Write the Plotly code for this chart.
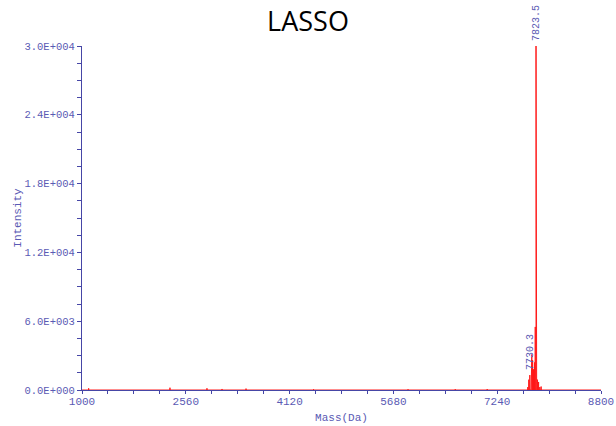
import plotly.graph_objects as go

# Spectrum peaks (mass in Da, intensity in counts)
peak_mass = [1100, 2322, 2878, 3104, 3465, 4480, 5900, 6610, 7090,
             7700, 7715, 7730.3, 7750, 7760, 7772, 7785, 7800, 7812,
             7823.5, 7833, 7845, 7862, 7880, 7900]
peak_intensity = [150, 200, 150, 90, 120, 60, 60, 70, 80,
                  250, 900, 1300, 2200, 3100, 2600, 1800, 2400, 5500,
                  30000, 1600, 900, 700, 250, 300]

# Peaks that carry a mass label
labelled_mass = [7823.5, 7730.3]

mass_range = [1000, 8800]
y_tick_vals = [0, 6000, 12000, 18000, 24000, 30000]
y_tick_text = ["0.0E+000", "6.0E+003", "1.2E+004", "1.8E+004", "2.4E+004", "3.0E+004"]

axis_col = "#4646a6"
text_col = "#5a5ab4"
mono = "Liberation Mono, DejaVu Sans Mono, monospace"

# Build a stick spectrum as one continuous path along the baseline
xs, ys = [mass_range[0]], [0]
for m, i in sorted(zip(peak_mass, peak_intensity)):
    xs += [m, m, m]
    ys += [0, i, 0]
xs.append(mass_range[1])
ys.append(0)

fig = go.Figure()
fig.add_trace(go.Scatter(x=xs, y=ys, mode="lines",
                         line=dict(color="#ff1a1a", width=1),
                         hoverinfo="skip", showlegend=False))

for m in labelled_mass:
    h = peak_intensity[peak_mass.index(m)]
    fig.add_annotation(x=m, y=h, text=f"{m:.1f}", showarrow=False,
                       textangle=-90, yanchor="bottom", xanchor="center",
                       yshift=3, font=dict(family=mono, size=10, color=text_col))

fig.update_layout(
    width=616, height=426,
    margin=dict(l=82, r=15, t=46, b=36, autoexpand=False),
    paper_bgcolor="white", plot_bgcolor="white",
    title=dict(text="LASSO", x=0.5, xanchor="center",
               yref="container", y=0.972, yanchor="top",
               font=dict(family="Open Sans, sans-serif", size=27, color="black")),
    xaxis=dict(range=mass_range, showgrid=False, zeroline=False, automargin=False,
               showline=True, linecolor=axis_col, linewidth=1,
               tickmode="linear", tick0=1000, dtick=1560,
               ticks="outside", ticklen=3, tickcolor=axis_col,
               ticklabelstandoff=-2,
               minor=dict(ticks="outside", ticklen=3, tickcolor=axis_col,
                          tickmode="linear", tick0=1000, dtick=390),
               tickfont=dict(family=mono, size=11, color=text_col),
               title=dict(text="Mass(Da)", standoff=6,
                          font=dict(family=mono, size=11, color=text_col))),
    yaxis=dict(range=[0, 30000], showgrid=False, zeroline=False, automargin=False,
               showline=True, linecolor=axis_col, linewidth=1,
               tickmode="array", tickvals=y_tick_vals, ticktext=y_tick_text,
               ticks="outside", ticklen=4, tickcolor=axis_col,
               minor=dict(ticks="outside", ticklen=4, tickcolor=axis_col,
                          tickmode="linear", tick0=0, dtick=1500),
               tickfont=dict(family=mono, size=10.5, color=text_col),
               title=dict(text="Intensity", standoff=0,
                          font=dict(family=mono, size=11, color=text_col))),
)

fig.write_html("out.html")
